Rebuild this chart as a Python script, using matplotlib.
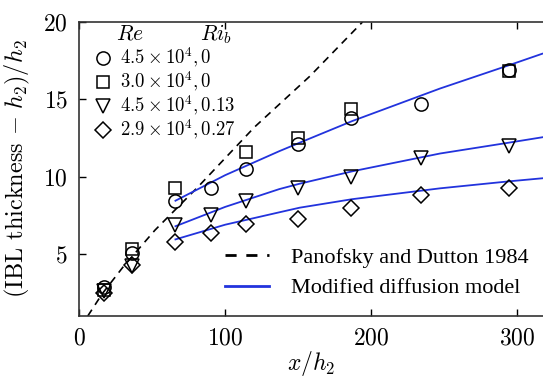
import numpy as np
import matplotlib
matplotlib.use('Agg')
import matplotlib.pyplot as plt
from matplotlib.lines import Line2D

plt.rcParams['font.family'] = 'serif'
plt.rcParams['font.serif'] = ['cmr10']
plt.rcParams['mathtext.fontset'] = 'cm'
plt.rcParams['axes.formatter.use_mathtext'] = True

# measured points
x_pts = [17, 36, 66, 90, 114, 150, 186, 234, 294]
circ_y = [2.9, 5.1, 8.4, 9.3, 10.5, 12.1, 13.8, 14.7, 16.9]
sq_x = [17, 36, 66, 114, 150, 186, 294]
sq_y = [2.7, 5.35, 9.3, 11.6, 12.5, 14.4, 16.85]
tri_y = [2.6, 4.2, 6.85, 7.5, 8.4, 9.25, 10.0, 11.2, 12.0]
dia_x = [17, 36, 66, 90, 114, 150, 186, 234, 294]
dia_y = [2.5, 4.3, 5.8, 6.35, 6.95, 7.3, 8.0, 8.8, 9.25]

# Panofsky and Dutton 1984 (dashed)
pd_x = [6, 16, 30, 52, 82, 120, 158, 194]
pd_y = [1.0, 2.45, 4.15, 6.55, 9.4, 13.2, 16.5, 20.0]

# modified diffusion model (blue)
m_x = [66, 100, 137, 151, 187, 247, 294, 317]
m1_y = [8.45, 10.1, 11.65, 12.2, 13.6, 15.7, 17.2, 17.95]
m2_y = [6.8, 8.05, 9.2, 9.55, 10.35, 11.5, 12.2, 12.55]
m3_y = [5.95, 6.9, 7.7, 8.0, 8.55, 9.25, 9.7, 9.9]

labels = [r'$4.5\times10^4,0$', r'$3.0\times10^4,0$',
          r'$4.5\times10^4,0.13$', r'$2.9\times10^4,0.27$']

blue = '#2233dd'

fig = plt.figure(figsize=(5.43, 3.83), dpi=100)
ax = fig.add_axes([79/543, 67/383, 1 - 79/543, 294/383])

ax.plot(pd_x, pd_y, 'k--', lw=1.2, dashes=(4.5, 3.5))
for my in (m1_y, m2_y, m3_y):
    ax.plot(m_x, my, color=blue, lw=1.3)

mk = dict(linestyle='None', mfc='none', mec='k', ms=9.5, mew=1.1)
ax.plot(x_pts, circ_y, marker='o', **mk)
ax.plot(sq_x, sq_y, marker='s', **dict(mk, ms=8.5))
ax.plot(x_pts, tri_y, marker='v', **dict(mk, ms=10.5))
ax.plot(dia_x, dia_y, marker='D', **dict(mk, ms=8))

ax.set_xlim(0, 317.5)
ax.set_ylim(1, 20)
ax.set_xticks([0, 100, 200, 300])
ax.set_yticks([5, 10, 15, 20])
ax.tick_params(direction='in', top=True, labelsize=17, length=5, width=1, pad=8)
ax.spines['right'].set_visible(False)
for s in ('left', 'top', 'bottom'):
    ax.spines[s].set_linewidth(1.2)
    ax.spines[s].set_color('#333333')

ax.set_xlabel(r'$x/h_2$', fontsize=17, labelpad=0)
ax.set_ylabel(r'(IBL thickness $-\ h_2)/h_2$', fontsize=17.5, labelpad=8)

# marker legend
handles = [Line2D([], [], marker=m, **dict(mk, ms=s)) for m, s in
           zip(['o', 's', 'v', 'D'], [9.5, 8.5, 10.5, 8])]
leg1 = ax.legend(handles, labels, loc='upper left', bbox_to_anchor=(0.02, 0.945),
                 frameon=False, fontsize=13.5, handlelength=0.8, handletextpad=0.5,
                 labelspacing=0.0, borderaxespad=0)
ax.add_artist(leg1)
ax.text(0.11, 0.96, r'$Re$', transform=ax.transAxes, fontsize=15.5, va='center', ha='center')
ax.text(0.295, 0.96, r'$Ri_b$', transform=ax.transAxes, fontsize=15.5, va='center', ha='center')

# line legend
lh = [Line2D([], [], color='k', ls='--', lw=2, dashes=(4, 3.5)),
      Line2D([], [], color=blue, lw=2)]
ax.legend(lh, ['Panofsky and Dutton 1984', 'Modified diffusion model'],
          loc='lower left', bbox_to_anchor=(0.295, 0.03), frameon=False,
          prop={'family': 'Liberation Serif', 'size': 16},
          handlelength=2.0, handletextpad=1.0, labelspacing=0.45, borderaxespad=0)

fig.savefig('out.png', dpi=100)
